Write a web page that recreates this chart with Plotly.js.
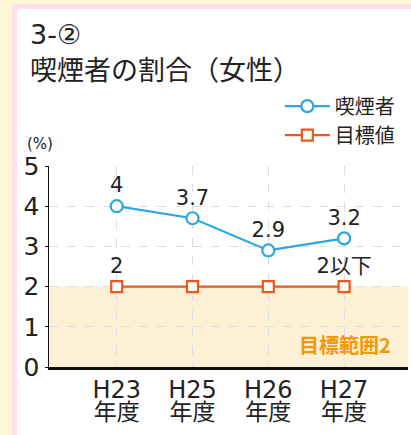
<!DOCTYPE html>
<html><head><meta charset="utf-8">
<script src="https://cdn.plot.ly/plotly-3.0.1.min.js"></script>
<style>
body{margin:0;background:#fff8d8;width:411px;height:435px;overflow:hidden;position:relative;}
#panel{position:absolute;left:12px;top:4px;width:420px;height:460px;border:5px solid #fde2eb;background:#fff;box-sizing:border-box;}
#chart{position:absolute;left:0;top:0;width:411px;height:435px;}
</style></head>
<body><div id="panel"></div><div id="chart"></div>
<script>
const categories = ["H23", "H25", "H26", "H27"];
const categorySuffix = ["年度", "年度", "年度", "年度"];
const smokerValues = [4, 3.7, 2.9, 3.2];
const smokerLabels = ["4", "3.7", "2.9", "3.2"];
const targetValues = [2, 2, 2, 2];
const targetLabels = ["2", "", "", "2以下"];
const yTicks = [0, 1, 2, 3, 4, 5];
const targetBand = [0, 2];

const idx = categories.map((c, i) => i);
const FONT = "'DejaVu Sans', 'Noto Sans CJK JP', sans-serif";
const CJK = "'Noto Sans CJK JP', 'DejaVu Sans', sans-serif";
const blue = "#2ea6df", orange = "#ea5a1c";
const xr = [-0.893, 3.843];

const traces = [
  {x: idx, y: targetValues, name: "目標値", xaxis: "x2", mode: "lines+markers+text",
   text: targetLabels, textposition: "top center", textfont: {size: 21, color: "#222", family: FONT},
   line: {color: orange, width: 2.2},
   marker: {symbol: "square", size: 11, color: "#fff", line: {color: orange, width: 2.2}},
   cliponaxis: false},
  {x: idx, y: smokerValues, name: "喫煙者", mode: "lines+markers+text",
   text: smokerLabels, textposition: "top center", textfont: {size: 21, color: "#222", family: FONT},
   line: {color: blue, width: 2.2},
   marker: {symbol: "circle", size: 12, color: "#fff", line: {color: blue, width: 2.2}},
   cliponaxis: false}
];

const layout = {
  width: 411, height: 435,
  margin: {l: 49, r: 3, t: 166, b: 68},
  paper_bgcolor: "rgba(0,0,0,0)", plot_bgcolor: "rgba(0,0,0,0)",
  font: {family: FONT, color: "#222"},
  showlegend: true,
  legend: {x: 0.643, xanchor: "left", y: 1.395, yanchor: "top", bgcolor: "rgba(0,0,0,0)", itemwidth: 45,
           traceorder: "reversed",
           font: {size: 20, family: CJK, color: "#222"}, tracegroupgap: 0},
  xaxis: {range: xr, tickvals: idx, ticktext: categories, showgrid: true, gridcolor: "#d9dee6", griddash: "dash", gridwidth: 1,
          showline: true, linecolor: "#111", linewidth: 3, ticks: "", zeroline: false, ticklabelstandoff: -1,
          tickfont: {size: 24, family: FONT, color: "#222"}},
  xaxis2: {overlaying: "x", anchor: "y", side: "bottom", range: xr, tickvals: idx, ticktext: categorySuffix,
           showgrid: false, showline: false, ticks: "", zeroline: false, ticklabelstandoff: 29,
           tickfont: {size: 23, family: CJK, color: "#222"}},
  yaxis: {range: [0, 5], tickvals: yTicks, showgrid: true, gridcolor: "#d9dee6", griddash: "dash", gridwidth: 1,
          showline: true, linecolor: "#111", linewidth: 1.5, ticks: "outside", ticklen: 3, tickcolor: "#111",
          ticklabelstandoff: 0, zeroline: false,
          tickfont: {size: 25, family: FONT, color: "#222"}},
  shapes: [
    {type: "rect", xref: "paper", x0: 0, x1: 1, yref: "y", y0: targetBand[0], y1: targetBand[1],
     fillcolor: "#fdf0d4", line: {width: 0}, layer: "below"}
  ],
  annotations: [
    {text: "3-②", xref: "paper", yref: "paper", x: -0.058, y: 1.655, xanchor: "left", yanchor: "middle",
     showarrow: false, font: {size: 27, family: FONT, color: "#222"}},
    {text: "喫煙者の割合（女性）", xref: "paper", yref: "paper", x: -0.058, y: 1.483, xanchor: "left", yanchor: "middle",
     showarrow: false, font: {size: 27, family: CJK, color: "#222"}},
    {text: "(%)", xref: "paper", yref: "paper", x: -0.067, y: 1.107, xanchor: "left", yanchor: "middle",
     showarrow: false, font: {size: 15, family: FONT, color: "#222"}},
    {text: "<b>目標範囲2</b>", xref: "paper", yref: "y", x: 0.958, y: 0.57, xanchor: "right", yanchor: "middle",
     showarrow: false, font: {size: 20, family: CJK, color: "#f39800"}}
  ]
};

Plotly.newPlot("chart", traces, layout, {displayModeBar: false, staticPlot: true});
</script></body></html>
